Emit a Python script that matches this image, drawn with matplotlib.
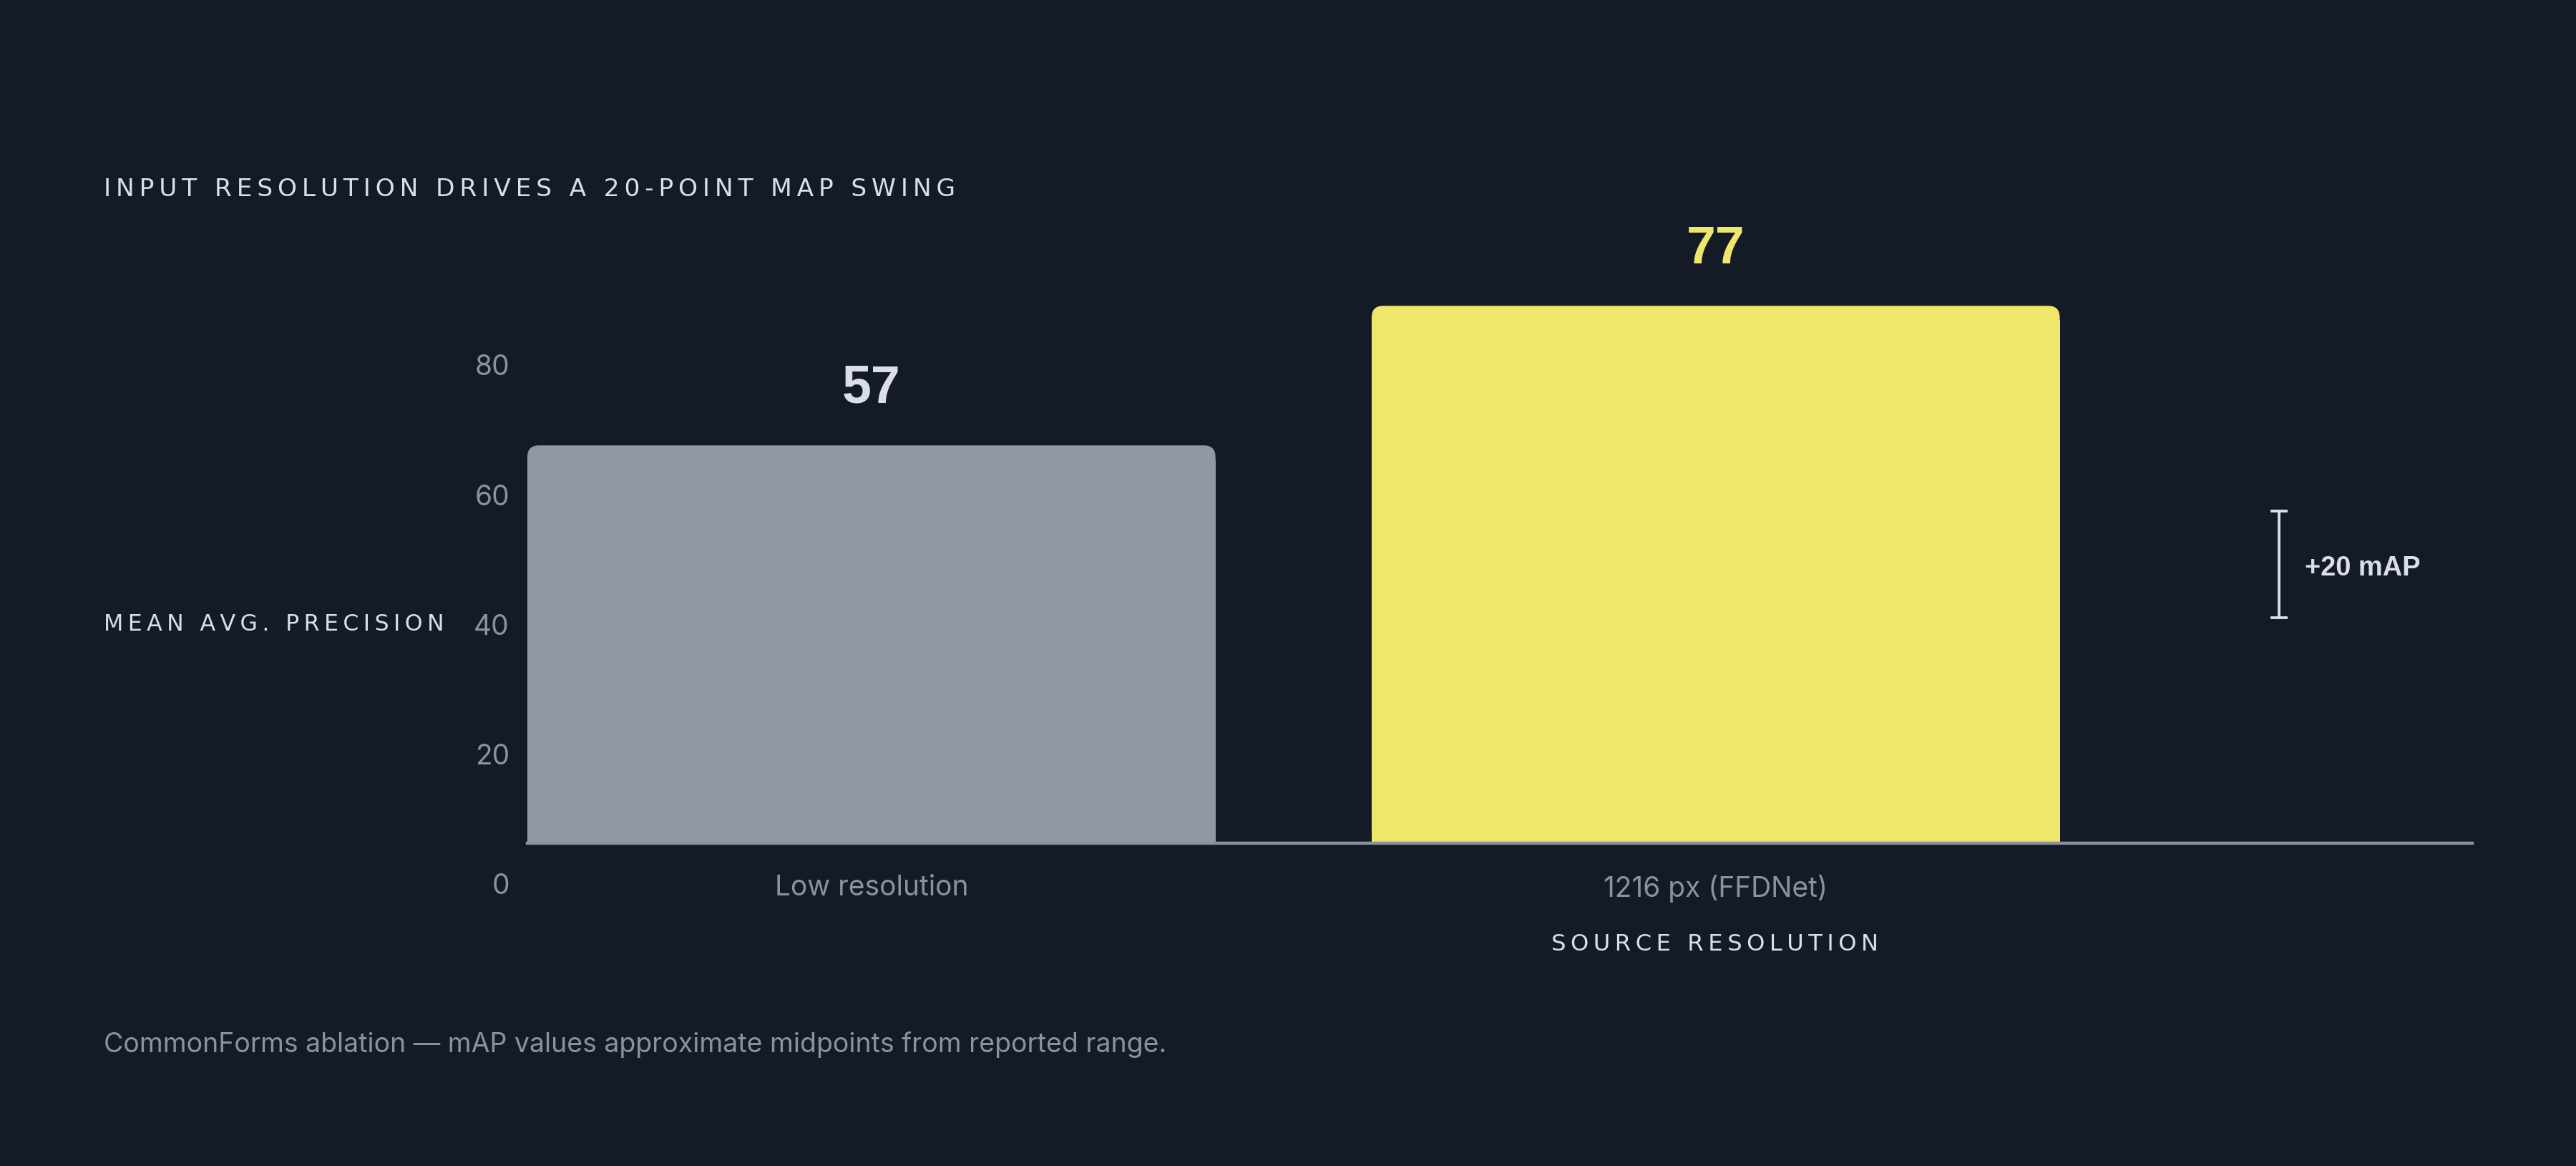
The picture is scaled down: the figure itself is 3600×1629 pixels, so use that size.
import matplotlib.pyplot as plt
from matplotlib.patches import FancyBboxPatch, Rectangle
from matplotlib.transforms import blended_transform_factory

# data
categories = ['Low resolution', '1216 px (FFDNet)']
map_values = [57, 77]
bar_colors = ['#9298a3', '#efe76b']
label_colors = ['#d9dee8', '#efe76b']
y_ticks = [0, 20, 40, 60, 80]
bracket_lo, bracket_hi = 32.3, 47.6
bracket_text = '+20 mAP'

title = 'INPUT RESOLUTION DRIVES A 20-POINT MAP SWING'
y_title = 'MEAN AVG. PRECISION'
x_title = 'SOURCE RESOLUTION'
note = 'CommonForms ablation \u2014 mAP values approximate midpoints from reported range.'

bg = '#151b26'
light = '#d9dee8'
muted = '#8c929d'


def spaced(s, gap='\u2009'):
    return gap.join(s)


fig = plt.figure(figsize=(18, 8.145), dpi=200, facecolor=bg)
ax = fig.add_axes([0.2047, 0.2769, 0.755, 0.5386])
ax.set_facecolor('none')
ax.set_xlim(-0.4076, 1.896)
ax.set_ylim(0, 90)

# bars with rounded top corners
width = 0.815
bars = ax.bar(range(len(map_values)), map_values, width=width, color='none')
r = 0.0136
aspect = 121
for b, c in zip(bars, bar_colors):
    x0, h = b.get_x(), b.get_height()
    ax.add_patch(FancyBboxPatch((x0, 0), width, h,
                                boxstyle=f'round,pad=0,rounding_size={r}',
                                mutation_aspect=aspect, fc=c, ec='none'))
    ax.add_patch(Rectangle((x0, 0), width, h - r * aspect * 1.2, fc=c, ec='none'))

for i, (v, c) in enumerate(zip(map_values, label_colors)):
    ax.annotate(str(v), (i, v), xytext=(0, 28.5), textcoords='offset points',
                ha='center', va='center', fontsize=26.5, fontweight='bold',
                color=c, family='Liberation Sans')

for s in ['top', 'right', 'left']:
    ax.spines[s].set_visible(False)
ax.spines['bottom'].set_color(muted)
ax.spines['bottom'].set_linewidth(1.6)
ax.set_yticks([])
ax.set_xticks(range(len(categories)))
ax.set_xticklabels(categories, fontsize=14, color=muted, family='Inter')
ax.tick_params(axis='x', length=0, pad=16)

# bracket annotation
bx = 1.667
ax.plot([bx, bx], [bracket_lo, bracket_hi], color=light, lw=1.4)
for yy in (bracket_lo, bracket_hi):
    ax.plot([bx - 0.0085, bx + 0.0085], [yy, yy], color=light, lw=1.4)
ax.text(bx + 0.031, (bracket_lo + bracket_hi) / 2 - 0.6, bracket_text, ha='left',
        va='center', fontsize=13.7, fontweight='bold', color=light,
        family='Liberation Sans')

# tick label axis (labels sit on their own scale, offset from the bars)
ax2 = fig.add_axes([0.2047, 0.2327, 0.755, 0.5829])
ax2.set_facecolor('none')
ax2.set_ylim(-1.655, 103.1)
ax2.set_xticks([])
ax2.set_yticks(y_ticks)
ax2.set_yticklabels([str(t) for t in y_ticks], fontsize=14, color=muted, family='Inter')
ax2.tick_params(axis='y', length=0, pad=9)
for s in ax2.spines.values():
    s.set_visible(False)

tr = blended_transform_factory(fig.transFigure, ax2.transData)
ax2.text(0.0403, 40, spaced(y_title), transform=tr, ha='left', va='center',
         fontsize=11.4, color=light, family='DejaVu Sans')

fig.text(0.0403, 1 - 264 / 1629, spaced(title), ha='left', va='center',
         fontsize=12.4, color=light, family='DejaVu Sans')
fig.text(2397 / 3600, 1 - 1320 / 1629, spaced(x_title), ha='center', va='center',
         fontsize=11.6, color=light, family='DejaVu Sans')
fig.text(0.0403, 1 - 1460 / 1629, note, ha='left', va='center',
         fontsize=13.5, color=muted, family='Inter')

fig.savefig('out.png', dpi=200, facecolor=bg)
